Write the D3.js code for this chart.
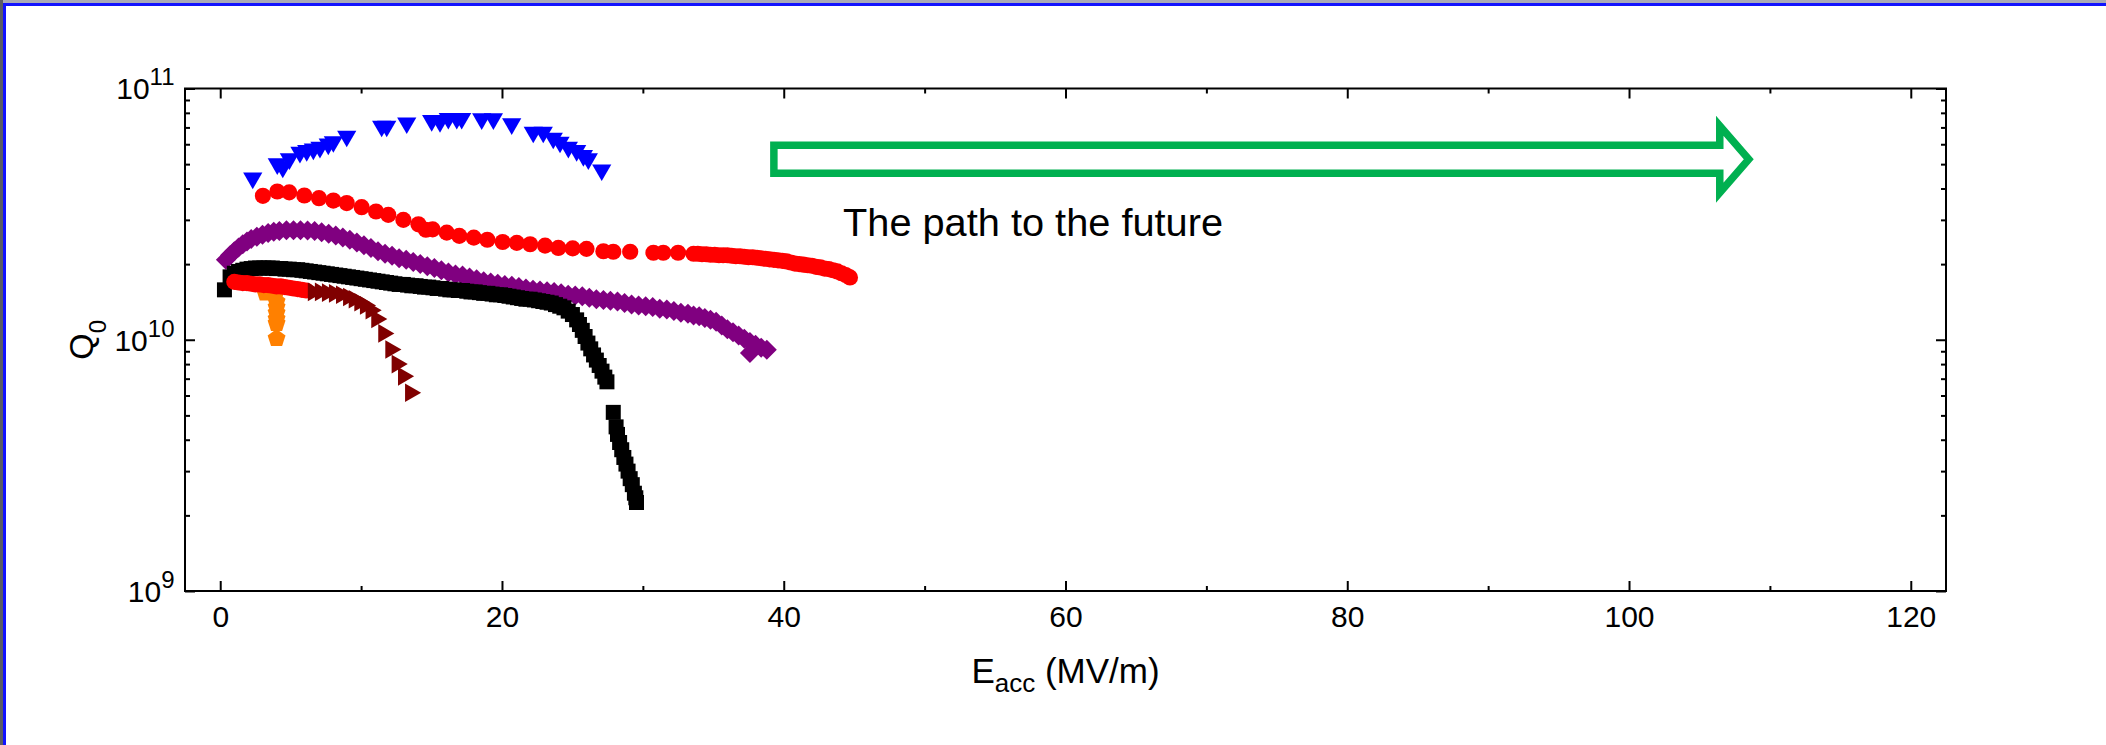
<!DOCTYPE html>
<html>
<head>
<meta charset="utf-8">
<script src="https://cdn.jsdelivr.net/npm/d3@7"></script>
<style>
  html, body { margin: 0; padding: 0; background: #fff; overflow: hidden; }
  text { font-family: "Liberation Sans", Arial, sans-serif; fill: #000; }
</style>
</head>
<body>
<svg id="chart" width="2106" height="745"></svg>
<script>
// ---- Q0 vs Eacc measurements (Eacc in MV/m, Q0 dimensionless) ----

// blue down-triangles
const blueE = [2.31, 4.05, 4.44, 4.91, 5.66, 6.14, 6.61, 7.08, 7.67, 8.03, 8.98, 11.46, 11.82, 13.24,
  15.01, 15.6, 16.19, 16.79, 17.14, 18.56, 19.39, 20.69, 22.22, 22.93, 23.64, 24.12, 24.71, 25.3,
  25.78, 26.13, 27.08];
const blueQ = [4.40e10, 5.01e10, 4.86e10, 5.25e10, 5.57e10, 5.66e10, 5.74e10, 5.83e10, 6.01e10, 6.14e10,
  6.46e10, 7.08e10, 7.08e10, 7.29e10, 7.45e10, 7.38e10, 7.60e10, 7.60e10, 7.60e10, 7.57e10, 7.57e10,
  7.23e10, 6.70e10, 6.70e10, 6.34e10, 6.11e10, 5.83e10, 5.66e10, 5.41e10, 5.25e10, 4.74e10];

// red circles, upper curve
const redE = [3.03, 4.05, 4.9, 5.97, 7.01, 8.03, 8.98, 10.04, 11.06, 11.93, 13.0, 14.07, 14.6, 15.08,
  16.08, 16.97, 18.0, 18.96, 20.05, 21.05, 22.0, 23.06, 24.0, 25.02, 26.0, 27.2, 27.9, 29.1, 30.75,
  31.45, 32.5, 33.6, 33.9, 34.2, 34.5, 34.8, 35.1, 35.4, 35.7, 36.0, 36.3, 36.6, 36.9, 37.2, 37.5,
  37.8, 38.1, 38.4, 38.7, 39.0, 39.3, 39.6, 39.9, 40.2, 40.5, 40.8, 41.1, 41.4, 41.7, 42.0, 42.3,
  42.6, 42.9, 43.2, 43.5, 43.8, 44.1, 44.4, 44.7];
const redQ = [3.74e10, 3.89e10, 3.86e10, 3.75e10, 3.66e10, 3.58e10, 3.50e10, 3.37e10, 3.24e10, 3.14e10,
  3.00e10, 2.88e10, 2.74e10, 2.75e10, 2.67e10, 2.59e10, 2.55e10, 2.50e10, 2.45e10, 2.43e10, 2.40e10,
  2.37e10, 2.32e10, 2.31e10, 2.30e10, 2.25e10, 2.24e10, 2.24e10, 2.22e10, 2.22e10, 2.22e10, 2.20e10,
  2.20e10, 2.19e10, 2.19e10, 2.18e10, 2.18e10, 2.17e10, 2.17e10, 2.17e10, 2.16e10, 2.15e10, 2.15e10,
  2.14e10, 2.13e10, 2.13e10, 2.12e10, 2.11e10, 2.10e10, 2.09e10, 2.08e10, 2.07e10, 2.06e10, 2.05e10,
  2.03e10, 2.01e10, 2.00e10, 1.99e10, 1.98e10, 1.97e10, 1.95e10, 1.94e10, 1.92e10, 1.91e10, 1.89e10,
  1.87e10, 1.84e10, 1.81e10, 1.77e10];

// purple diamonds
const purpleE = [0.4, 0.7, 1.0, 1.3, 1.6, 1.9, 2.2, 2.6, 3.0, 3.4, 3.8, 4.2, 4.7, 5.2, 5.7, 6.2, 6.7,
  7.2, 7.7, 8.2, 8.7, 9.2, 9.7, 10.2, 10.7, 11.2, 11.7, 12.2, 12.7, 13.2, 13.7, 14.2, 14.7, 15.2,
  15.7, 16.2, 16.7, 17.2, 17.7, 18.2, 18.7, 19.2, 19.7, 20.2, 20.7, 21.2, 21.7, 22.2, 22.7, 23.2,
  23.7, 24.2, 24.7, 25.2, 25.7, 26.2, 26.7, 27.2, 27.7, 28.2, 28.7, 29.2, 29.7, 30.2, 30.7, 31.2,
  31.7, 32.2, 32.7, 33.2, 33.6, 34.0, 34.4, 34.8, 35.2, 35.6, 36.0, 36.4, 36.8, 37.2, 37.6, 38.0,
  38.4, 38.8, 37.6];
const purpleQ = [2.08e10, 2.17e10, 2.25e10, 2.33e10, 2.40e10, 2.46e10, 2.52e10, 2.57e10, 2.62e10,
  2.66e10, 2.69e10, 2.71e10, 2.73e10, 2.73e10, 2.73e10, 2.72e10, 2.71e10, 2.68e10, 2.64e10, 2.60e10,
  2.55e10, 2.50e10, 2.44e10, 2.38e10, 2.32e10, 2.25e10, 2.20e10, 2.16e10, 2.11e10, 2.08e10, 2.04e10,
  2.00e10, 1.96e10, 1.93e10, 1.89e10, 1.85e10, 1.82e10, 1.80e10, 1.77e10, 1.74e10, 1.71e10, 1.69e10,
  1.67e10, 1.65e10, 1.64e10, 1.62e10, 1.60e10, 1.58e10, 1.57e10, 1.56e10, 1.55e10, 1.53e10, 1.51e10,
  1.50e10, 1.49e10, 1.47e10, 1.45e10, 1.44e10, 1.43e10, 1.42e10, 1.40e10, 1.38e10, 1.37e10, 1.36e10,
  1.35e10, 1.33e10, 1.32e10, 1.30e10, 1.28e10, 1.27e10, 1.25e10, 1.24e10, 1.22e10, 1.20e10, 1.18e10,
  1.14e10, 1.10e10, 1.07e10, 1.04e10, 1.01e10, 9.8e9, 9.55e9, 9.3e9, 9.12e9, 8.85e9];

// black squares
const blackE = [0.3, 0.7, 1.0, 1.3, 1.6, 1.9, 2.2, 2.5, 2.8, 3.1, 3.4, 3.7, 4.0, 4.3, 4.6, 4.9, 5.2,
  5.5, 5.8, 6.1, 6.4, 6.7, 7.0, 7.3, 7.6, 7.9, 8.2, 8.5, 8.8, 9.1, 9.4, 9.7, 10.0, 10.3, 10.6, 10.9,
  11.2, 11.5, 11.8, 12.1, 12.4, 12.7, 13.0, 13.3, 13.6, 13.9, 14.2, 14.5, 14.8, 15.1, 15.4, 15.7,
  16.0, 16.3, 16.6, 16.9, 17.2, 17.5, 17.8, 18.1, 18.4, 18.7, 19.0, 19.3, 19.6, 19.9, 20.2, 20.5,
  20.8, 21.1, 21.4, 21.7, 22.0, 22.3, 22.6, 22.9, 23.2, 23.5, 23.8, 24.1, 24.4, 24.7, 25.0, 25.3,
  25.5, 25.7, 25.9, 26.1, 26.3, 26.5, 26.7, 26.9, 27.1, 27.3, 27.45, 27.9, 28.1, 28.2, 28.35, 28.5,
  28.65, 28.8, 28.95, 29.1, 29.25, 29.4, 29.5, 29.55];
const blackQ = [1.58e10, 1.78e10, 1.84e10, 1.87e10, 1.89e10, 1.91e10, 1.92e10, 1.93e10, 1.93e10,
  1.93e10, 1.93e10, 1.93e10, 1.92e10, 1.92e10, 1.91e10, 1.91e10, 1.90e10, 1.90e10, 1.89e10, 1.88e10,
  1.87e10, 1.86e10, 1.85e10, 1.84e10, 1.83e10, 1.82e10, 1.81e10, 1.80e10, 1.79e10, 1.78e10, 1.77e10,
  1.76e10, 1.75e10, 1.74e10, 1.73e10, 1.72e10, 1.71e10, 1.70e10, 1.69e10, 1.68e10, 1.67e10, 1.66e10,
  1.66e10, 1.65e10, 1.64e10, 1.64e10, 1.63e10, 1.62e10, 1.62e10, 1.61e10, 1.60e10, 1.60e10, 1.59e10,
  1.58e10, 1.58e10, 1.57e10, 1.57e10, 1.56e10, 1.55e10, 1.55e10, 1.54e10, 1.53e10, 1.53e10, 1.52e10,
  1.51e10, 1.51e10, 1.50e10, 1.49e10, 1.48e10, 1.47e10, 1.46e10, 1.45e10, 1.45e10, 1.44e10, 1.43e10,
  1.42e10, 1.41e10, 1.40e10, 1.38e10, 1.36e10, 1.34e10, 1.30e10, 1.26e10, 1.20e10, 1.15e10, 1.09e10,
  1.03e10, 9.7e9, 9.2e9, 8.7e9, 8.3e9, 7.9e9, 7.5e9, 7.1e9, 6.8e9, 5.14e9, 4.5e9, 4.2e9, 3.9e9,
  3.65e9, 3.4e9, 3.2e9, 3.0e9, 2.8e9, 2.65e9, 2.45e9, 2.35e9, 2.25e9];

// orange pentagons
const orangeE = [3.2, 3.9, 4.0, 4.0, 4.0, 4.0, 4.0, 4.0];
const orangeQ = [1.55e10, 1.52e10, 1.43e10, 1.36e10, 1.29e10, 1.22e10, 1.17e10, 1.02e10];

// red circles, lower curve
const red2E = [1.0, 1.3, 1.6, 1.9, 2.2, 2.5, 2.8, 3.1, 3.4, 3.7, 4.0, 4.3, 4.6, 4.9, 5.2, 5.5, 5.8, 6.1];
const red2Q = [1.70e10, 1.69e10, 1.68e10, 1.68e10, 1.67e10, 1.66e10, 1.66e10, 1.65e10, 1.65e10, 1.64e10,
  1.63e10, 1.63e10, 1.62e10, 1.61e10, 1.60e10, 1.59e10, 1.58e10, 1.57e10];

// dark red right-triangles
const maroonE = [6.6, 7.1, 7.6, 8.1, 8.6, 9.1, 9.5, 9.9, 10.3, 10.7, 11.1, 11.6, 12.1, 12.55, 13.0, 13.5];
const maroonQ = [1.55e10, 1.55e10, 1.54e10, 1.53e10, 1.51e10, 1.48e10, 1.45e10, 1.41e10, 1.37e10,
  1.31e10, 1.21e10, 1.06e10, 9.15e9, 8.0e9, 7.15e9, 6.15e9];

// axes
const xMajor = [0, 20, 40, 60, 80, 100, 120];
const xMinor = [10, 30, 50, 70, 90, 110];
const yMajor = [1e9, 1e10, 1e11];
const yMajorExp = ["9", "10", "11"];
const yMinor = [2e9, 3e9, 4e9, 5e9, 6e9, 7e9, 8e9, 9e9, 2e10, 3e10, 4e10, 5e10, 6e10, 7e10, 8e10, 9e10];

// annotation arrow (Eacc span) and its caption
const arrowFrom = 39.3;
const arrowTo = 108.5;
const arrowQ = 5.23e10;
const caption = "The path to the future";

// ---------------------------------------------------------------
const svg = d3.select("#chart");
svg.append("rect").attr("width", 2106).attr("height", 745).attr("fill", "#fff");

// slide frame edges
svg.append("rect").attr("x", 0).attr("y", 0).attr("width", 2106).attr("height", 3).attr("fill", "#a9a9b6");
svg.append("rect").attr("x", 0).attr("y", 0).attr("width", 3).attr("height", 745).attr("fill", "#5c5c64");
svg.append("rect").attr("x", 3).attr("y", 3).attr("width", 2103).attr("height", 3).attr("fill", "#1212ff");
svg.append("rect").attr("x", 3).attr("y", 3).attr("width", 3).attr("height", 742).attr("fill", "#1212ff");

const x = d3.scaleLinear().domain([-2.5, 122.5]).range([185, 1946]);
const y = d3.scaleLog().domain([1e9, 1e11]).range([591, 88.5]);

const [x0, x1] = x.range();
const [yb, yt] = y.range();

function styleAxis(g, width) {
  g.select(".domain").remove();
  g.selectAll(".tick line").attr("stroke", "#000").attr("stroke-width", width);
}

// bottom axis with labels
const gB = svg.append("g").attr("transform", `translate(0,${yb})`)
  .call(d3.axisBottom(x).tickValues(xMajor).tickSize(-10).tickPadding(15).tickFormat(d3.format("d")));
styleAxis(gB, 2);
gB.selectAll(".tick text").attr("font-size", 30).attr("font-family", "Liberation Sans, Arial, sans-serif").attr("fill", "#000");
const gBm = svg.append("g").attr("transform", `translate(0,${yb})`)
  .call(d3.axisBottom(x).tickValues(xMinor).tickSize(-5).tickFormat(""));
styleAxis(gBm, 2);

// top axis
const gT = svg.append("g").attr("transform", `translate(0,${yt})`)
  .call(d3.axisTop(x).tickValues(xMajor).tickSize(-10).tickFormat(""));
styleAxis(gT, 2);
const gTm = svg.append("g").attr("transform", `translate(0,${yt})`)
  .call(d3.axisTop(x).tickValues(xMinor).tickSize(-5).tickFormat(""));
styleAxis(gTm, 2);

// left axis
const gL = svg.append("g").attr("transform", `translate(${x0},0)`)
  .call(d3.axisLeft(y).tickValues(yMajor).tickSize(-10).tickFormat(""));
styleAxis(gL, 2);
const gLm = svg.append("g").attr("transform", `translate(${x0},0)`)
  .call(d3.axisLeft(y).tickValues(yMinor).tickSize(-5).tickFormat(""));
styleAxis(gLm, 2);

// right axis
const gR = svg.append("g").attr("transform", `translate(${x1},0)`)
  .call(d3.axisRight(y).tickValues(yMajor).tickSize(-10).tickFormat(""));
styleAxis(gR, 2);
const gRm = svg.append("g").attr("transform", `translate(${x1},0)`)
  .call(d3.axisRight(y).tickValues(yMinor).tickSize(-5).tickFormat(""));
styleAxis(gRm, 2);

// frame
svg.append("rect")
  .attr("x", x0).attr("y", yt).attr("width", x1 - x0).attr("height", yb - yt)
  .attr("fill", "none").attr("stroke", "#000").attr("stroke-width", 2);

// y tick labels as powers of ten
yMajor.forEach((v, i) => {
  const t = svg.append("text").attr("x", x0 - 10.5).attr("y", y(v) + 10.8).attr("text-anchor", "end");
  t.append("tspan").attr("font-size", 30).text("10");
  t.append("tspan").attr("font-size", 24).attr("dy", -14).text(yMajorExp[i]);
});

// axis titles
const yTitle = svg.append("text")
  .attr("transform", `translate(93,${(yb + yt) / 2}) rotate(-90)`)
  .attr("text-anchor", "middle");
yTitle.append("tspan").attr("font-size", 34).text("Q");
yTitle.append("tspan").attr("font-size", 24).attr("dy", 13).text("0");

const xTitle = svg.append("text")
  .attr("x", (x0 + x1) / 2).attr("y", 683)
  .attr("text-anchor", "middle");
xTitle.append("tspan").attr("font-size", 35).text("E");
xTitle.append("tspan").attr("font-size", 26).attr("dy", 9).text("acc");
xTitle.append("tspan").attr("font-size", 35).attr("dy", -9).text(" (MV/m)");

// ---- marker shapes ----
const diamond = {
  draw(ctx, size) {
    const h = Math.sqrt(size / 2);
    ctx.moveTo(0, -h); ctx.lineTo(h, 0); ctx.lineTo(0, h); ctx.lineTo(-h, 0); ctx.closePath();
  }
};
const pentagon = {
  draw(ctx, size) {
    const r = Math.sqrt(size / 2.3776);
    for (let k = 0; k < 5; k++) {
      const a = -Math.PI / 2 + k * 2 * Math.PI / 5;
      const px = r * Math.cos(a), py = r * Math.sin(a) + r * 0.095;
      if (k === 0) ctx.moveTo(px, py); else ctx.lineTo(px, py);
    }
    ctx.closePath();
  }
};

function series(E, Q, color, type, size, rot) {
  const pts = E.map((e, i) => ({ e, q: Q[i] }));
  const path = d3.symbol().type(type).size(size)();
  svg.append("g").selectAll("path").data(pts).join("path")
    .attr("d", path)
    .attr("transform", d => `translate(${x(d.e)},${y(d.q)}) rotate(${rot})`)
    .attr("fill", color);
}

series(blueE, blueQ, "#0000ff", d3.symbolTriangle, 160, 180);
series(redE, redQ, "#ff0000", d3.symbolCircle, 205, 0);
series(purpleE, purpleQ, "#800080", diamond, 200, 0);
series(blackE, blackQ, "#000000", d3.symbolSquare, 225, 0);
series(orangeE, orangeQ, "#ff8000", pentagon, 210, 0);
series(red2E, red2Q, "#ff0000", d3.symbolCircle, 205, 0);
series(maroonE, maroonQ, "#800000", d3.symbolTriangle, 150, 90);

// ---- annotation arrow ----
const ax0 = x(arrowFrom), ax1 = x(arrowTo), ay = y(arrowQ);
const bodyH = 14, headH = 33.5, headL = 29;
const arrowPts = [
  [ax0, ay - bodyH], [ax1 - headL, ay - bodyH], [ax1 - headL, ay - headH], [ax1, ay],
  [ax1 - headL, ay + headH], [ax1 - headL, ay + bodyH], [ax0, ay + bodyH]
];
svg.append("polygon")
  .attr("points", arrowPts.map(p => p.join(",")).join(" "))
  .attr("fill", "#fff").attr("stroke", "#00b050").attr("stroke-width", 7.5)
  .attr("stroke-linejoin", "miter");

svg.append("text")
  .attr("x", 843).attr("y", 236)
  .attr("font-family", "Lato, 'Open Sans', sans-serif")
  .attr("font-size", 38)
  .attr("textLength", 380).attr("lengthAdjust", "spacingAndGlyphs")
  .text(caption);
</script>
</body>
</html>
